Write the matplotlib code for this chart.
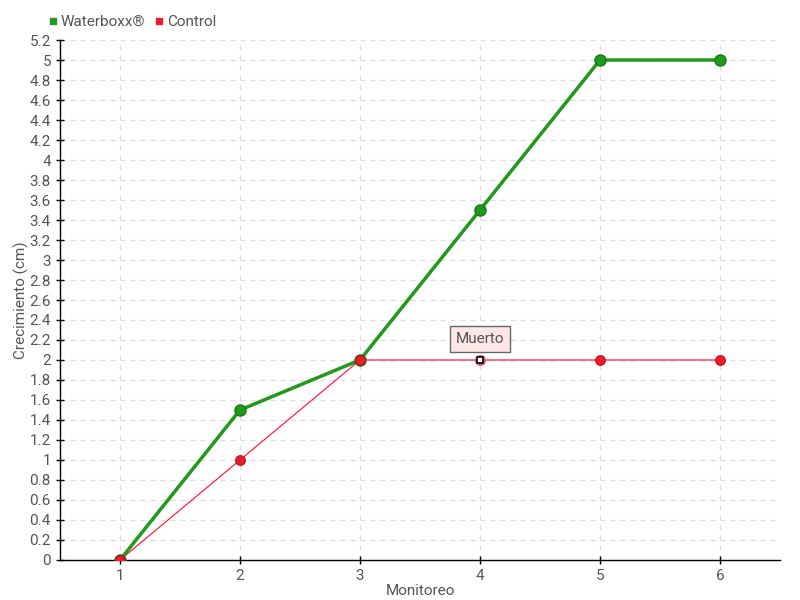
import matplotlib
matplotlib.use("Agg")
import matplotlib.pyplot as plt
from matplotlib.lines import Line2D
import numpy as np

# Datos
monitoreo = [1, 2, 3, 4, 5, 6]
waterboxx = [0, 1.5, 2, 3.5, 5, 5]
control = [0, 1, 2, 2, 2, 2]
muerto_idx = 3  # monitoreo 4, control muerto

y_ticks = np.round(np.arange(0, 5.21, 0.2), 1)

plt.rcParams['font.family'] = ['Roboto', 'DejaVu Sans']
texto = '#555555'
verde = '#1f9a1a'
rojo = '#ee1c2a'

fig = plt.figure(figsize=(8, 6), dpi=100)
ax = fig.add_axes([0.075, 0.0667, 0.9, 0.8666])

ax.plot(monitoreo, waterboxx, color=verde, lw=2.5, marker='o', ms=8,
        mfc=verde, mec='#187a14', mew=1, zorder=3)
ax.plot(monitoreo, control, color='#ff2040', lw=0.9, zorder=2)
for i, (x, y) in enumerate(zip(monitoreo, control)):
    if i == muerto_idx:
        ax.plot(x, y, marker='o', ms=8, mfc='#f06070', mec='none', zorder=4)
        ax.plot(x, y, marker='s', ms=5, mfc='white', mec='black', mew=1.2, zorder=5)
    else:
        ax.plot(x, y, marker='o', ms=7, mfc=rojo, mec='#c01018', mew=0.8, zorder=4)

ax.annotate('Muerto', xy=(monitoreo[muerto_idx], control[muerto_idx]),
            xytext=(0, 15), textcoords='offset points', ha='center', va='center',
            fontsize=11, color=texto,
            bbox=dict(boxstyle='square,pad=0.4', fc='#fde6e6', ec='#666666', lw=1),
            arrowprops=dict(arrowstyle='-', color='#666666', lw=0.8))

ax.set_xlim(0.5, 6.5)
ax.set_ylim(0, 5.2)
ax.set_xticks(monitoreo)
ax.set_yticks(y_ticks)
ax.set_yticklabels([('%g' % v) for v in y_ticks])
ax.grid(True, color='#dddddd', ls=(0, (4, 4)), lw=0.9)
ax.set_axisbelow(True)

for s in ['top', 'right']:
    ax.spines[s].set_visible(False)
for s in ['left', 'bottom']:
    ax.spines[s].set_color('black')
    ax.spines[s].set_linewidth(1)
ax.tick_params(direction='inout', length=6, width=1, colors='black',
               labelcolor=texto, labelsize=11)

ax.set_xlabel('Monitoreo', fontsize=11, color=texto, labelpad=1)
ax.set_ylabel('Crecimiento (cm)', fontsize=11, color=texto, labelpad=0)

# Leyenda superior
handles = [Line2D([], [], ls='none', marker='s', ms=5, mfc=verde, mec=verde),
           Line2D([], [], ls='none', marker='s', ms=5, mfc=rojo, mec=rojo)]
fig.legend(handles, ['Waterboxx®', 'Control'], loc='center left',
           bbox_to_anchor=(0.061, 0.963), ncol=2, frameon=False, fontsize=11,
           labelcolor=texto, handlelength=0.6, handletextpad=0.2, columnspacing=0.6,
           borderpad=0, borderaxespad=0)

fig.savefig('out.png', dpi=100)
